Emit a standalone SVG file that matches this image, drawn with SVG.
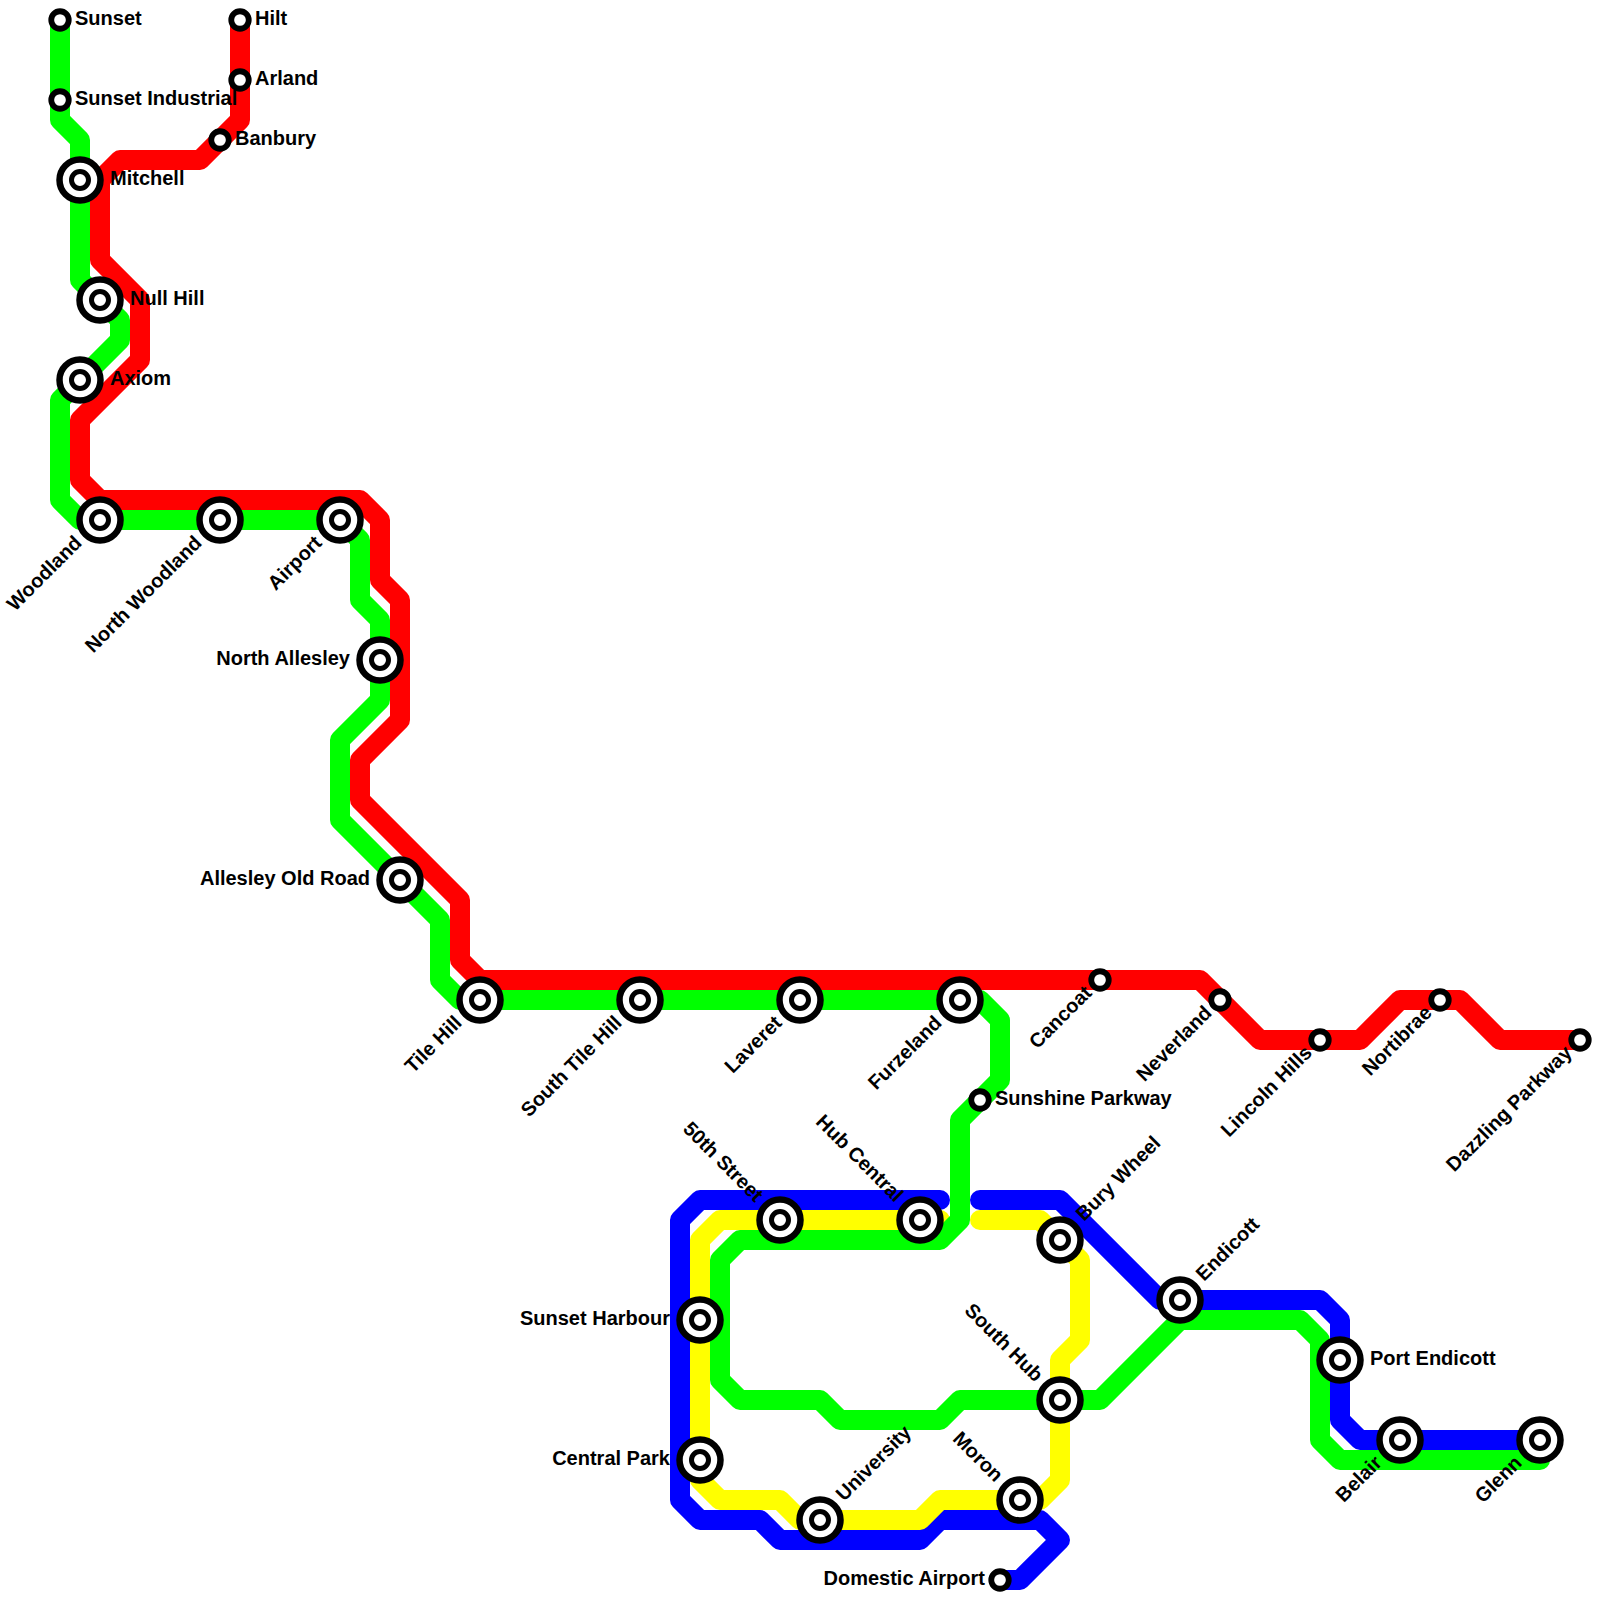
<svg xmlns="http://www.w3.org/2000/svg" width="1600" height="1600" viewBox="0 0 1600 1600">
<style>
.l{fill:none;stroke-width:20;stroke-linejoin:round;stroke-linecap:round}
.o{fill:#fff;stroke:#000;stroke-width:6.5}
.i{fill:#fff;stroke:#000;stroke-width:5}
.s{fill:#fff;stroke:#000;stroke-width:5.8}
text{font-family:"Liberation Sans",Arial,sans-serif;font-weight:bold;font-size:20px;fill:#000}
.e{text-anchor:end}
</style>
<defs>
<g id="big"><circle class="o" r="20.5"/><circle class="i" r="8.5"/></g>
<circle id="small" class="s" r="8.75"/>
</defs>
<rect width="1600" height="1600" fill="#fff"/>
<g id="connectors">
<polyline class="l" stroke="#00f" points="940,1200 700,1200 680,1220 680,1500 700,1520 760,1520 780,1540 920,1540 940,1520 1040,1520 1060,1540 1020,1580 1000,1580"/>
<polyline class="l" stroke="#00f" points="980,1200 1060,1200 1160,1300 1320,1300 1340,1320 1340,1420 1360,1440 1540,1440"/>
<polyline class="l" stroke="#ff0" points="940,1220 720,1220 700,1240 700,1480 720,1500 780,1500 800,1520 920,1520 940,1500 1040,1500 1060,1480 1060,1360 1080,1340 1080,1260 1040,1220 980,1220"/>
<polyline class="l" stroke="#0f0" points="60,20 60,120 80,140 80,280 120,320 120,340 60,400 60,500 80,520 340,520 360,540 360,600 380,620 380,700 340,740 340,820 440,920 440,980 460,1000 980,1000 1000,1020 1000,1080 960,1120 960,1220 940,1240 740,1240 720,1260 720,1380 740,1400 820,1400 840,1420 940,1420 960,1400 1100,1400 1180,1320 1300,1320 1320,1340 1320,1440 1340,1460 1540,1460 1540,1440"/>
<polyline class="l" stroke="#f00" points="240,20 240,120 200,160 120,160 100,180 100,260 140,300 140,360 80,420 80,480 100,500 360,500 380,520 380,580 400,600 400,720 360,760 360,800 460,900 460,960 480,980 1200,980 1260,1040 1360,1040 1400,1000 1460,1000 1500,1040 1580,1040"/>
</g>
<g id="sunset"><use href="#small" x="60" y="20"/><text x="75" y="25">Sunset</text></g>
<g id="sunset-industrial"><use href="#small" x="60" y="100"/><text x="75" y="105">Sunset Industrial</text></g>
<g id="hilt"><use href="#small" x="240" y="20"/><text x="255" y="25">Hilt</text></g>
<g id="arland"><use href="#small" x="240" y="80"/><text x="255" y="85">Arland</text></g>
<g id="banbury"><use href="#small" x="220" y="140"/><text x="235" y="145">Banbury</text></g>
<g id="mitchell"><use href="#big" x="80" y="180"/><text x="110" y="185">Mitchell</text></g>
<g id="null-hill"><use href="#big" x="100" y="300"/><text x="130" y="305">Null Hill</text></g>
<g id="axiom"><use href="#big" x="80" y="380"/><text x="110" y="385">Axiom</text></g>
<g id="woodland"><use href="#big" x="100" y="520"/><text class="e" transform="translate(83,544) rotate(-45)">Woodland</text></g>
<g id="north-woodland"><use href="#big" x="220" y="520"/><text class="e" transform="translate(203,544) rotate(-45)">North Woodland</text></g>
<g id="airport"><use href="#big" x="340" y="520"/><text class="e" transform="translate(323,544) rotate(-45)">Airport</text></g>
<g id="north-allesley"><use href="#big" x="380" y="660"/><text class="e" x="350" y="665">North Allesley</text></g>
<g id="allesley-old-road"><use href="#big" x="400" y="880"/><text class="e" x="370" y="885">Allesley Old Road</text></g>
<g id="tile-hill"><use href="#big" x="480" y="1000"/><text class="e" transform="translate(463,1024) rotate(-45)">Tile Hill</text></g>
<g id="south-tile-hill"><use href="#big" x="640" y="1000"/><text class="e" transform="translate(623,1024) rotate(-45)">South Tile Hill</text></g>
<g id="laveret"><use href="#big" x="800" y="1000"/><text class="e" transform="translate(783,1024) rotate(-45)">Laveret</text></g>
<g id="furzeland"><use href="#big" x="960" y="1000"/><text class="e" transform="translate(943,1024) rotate(-45)">Furzeland</text></g>
<g id="cancoat"><use href="#small" x="1100" y="980"/><text class="e" transform="translate(1093,994) rotate(-45)">Cancoat</text></g>
<g id="neverland"><use href="#small" x="1220" y="1000"/><text class="e" transform="translate(1213,1014) rotate(-45)">Neverland</text></g>
<g id="lincoln-hills"><use href="#small" x="1320" y="1040"/><text class="e" transform="translate(1313,1054) rotate(-45)">Lincoln Hills</text></g>
<g id="nortibrae"><use href="#small" x="1440" y="1000"/><text class="e" transform="translate(1433,1014) rotate(-45)">Nortibrae</text></g>
<g id="dazzling-parkway"><use href="#small" x="1580" y="1040"/><text class="e" transform="translate(1573,1054) rotate(-45)">Dazzling Parkway</text></g>
<g id="sunshine-parkway"><use href="#small" x="980" y="1100"/><text x="995" y="1105">Sunshine Parkway</text></g>
<g id="fiftieth-street"><use href="#big" x="780" y="1220"/><text class="e" transform="translate(755,1203) rotate(45)">50th Street</text></g>
<g id="hub-central"><use href="#big" x="920" y="1220"/><text class="e" transform="translate(895,1203) rotate(45)">Hub Central</text></g>
<g id="bury-wheel"><use href="#big" x="1060" y="1240"/><text transform="translate(1084,1222) rotate(-45)">Bury Wheel</text></g>
<g id="endicott"><use href="#big" x="1180" y="1300"/><text transform="translate(1204,1282) rotate(-45)">Endicott</text></g>
<g id="port-endicott"><use href="#big" x="1340" y="1360"/><text x="1370" y="1365">Port Endicott</text></g>
<g id="belair"><use href="#big" x="1400" y="1440"/><text class="e" transform="translate(1383,1464) rotate(-45)">Belair</text></g>
<g id="glenn"><use href="#big" x="1540" y="1440"/><text class="e" transform="translate(1523,1464) rotate(-45)">Glenn</text></g>
<g id="sunset-harbour"><use href="#big" x="700" y="1320"/><text class="e" x="670" y="1325">Sunset Harbour</text></g>
<g id="central-park"><use href="#big" x="700" y="1460"/><text class="e" x="670" y="1465">Central Park</text></g>
<g id="university"><use href="#big" x="820" y="1520"/><text transform="translate(844,1502) rotate(-45)">University</text></g>
<g id="south-hub"><use href="#big" x="1060" y="1400"/><text class="e" transform="translate(1035,1383) rotate(45)">South Hub</text></g>
<g id="moron"><use href="#big" x="1020" y="1500"/><text class="e" transform="translate(995,1483) rotate(45)">Moron</text></g>
<g id="domestic-airport"><use href="#small" x="1000" y="1580"/><text class="e" x="985" y="1585">Domestic Airport</text></g>
</svg>
